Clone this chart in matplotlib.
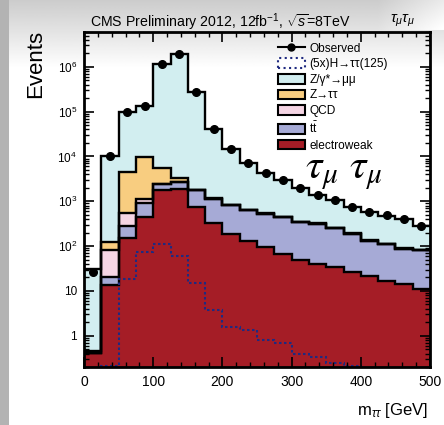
import numpy as np
import matplotlib
matplotlib.use('Agg')
import matplotlib.pyplot as plt
from matplotlib.ticker import MultipleLocator, FuncFormatter, LogLocator, FixedLocator, NullFormatter
from matplotlib.patches import Patch
from matplotlib.lines import Line2D

plt.rcParams['font.family'] = ['Liberation Sans', 'DejaVu Sans']
plt.rcParams['mathtext.fontset'] = 'custom'
plt.rcParams['mathtext.rm'] = 'Liberation Sans'
plt.rcParams['mathtext.it'] = 'Liberation Sans:italic'

# m_tautau bins, 25 GeV wide
edges = np.arange(0, 525, 25)

observed = [26, 1.0e4, 1.0e5, 1.35e5, 1.14e6, 1.94e6, 2.8e5, 4.0e4, 1.5e4, 7.3e3,
            4.2e3, 2.95e3, 2.0e3, 1.4e3, 1.05e3, 740, 575, 490, 392, 285]
signal = [0.01, 0.21, 18.5, 73, 112, 61, 15, 3.7, 1.6, 1.34,
          0.8, 0.67, 0.39, 0.34, 0.25, 0.21, 0.12, 0.1, 0.08, 0.05]
dy_mumu = [30.5, 10380, 95500, 125200, 1.134e6, 1.937e6, 278200, 38840, 14180, 6660,
           3670, 2500, 1600, 1030, 800, 550, 440, 366, 307, 200]
z_tautau = [0.06, 39, 3950, 8650, 3150, 550, 50, 20, 10, 6,
            4, 3, 2, 2, 1, 1, 1, 1, 1, 1]
qcd = [0, 63, 270, 250, 30, 0, 0, 0, 0, 0,
       0, 0, 0, 0, 0, 0, 0, 0, 0, 0]
ttbar = [0, 7, 127, 450, 700, 850, 1000, 815, 620, 500,
         435, 380, 295, 278, 213, 164, 111, 96, 73, 69]
ewk = [0.4, 13.8, 148, 447, 1750, 1850, 740, 325, 188, 133,
       95, 67, 50, 40, 34, 26, 22, 17, 14.4, 11]
y_ticks = [1, 10, 1e2, 1e3, 1e4, 1e5, 1e6]

c_dy = '#d2eef0'
c_ztt = '#f8cd80'
c_qcd = '#f5d5e4'
c_tt = '#a6aad6'
c_ewk = '#a51d26'
c_sig = '#1f2a80'

fig = plt.figure(figsize=(4.44, 4.25), dpi=100)

# greyish vignette of the original screenshot
bg = fig.add_axes([0, 0, 1, 1], zorder=-10)
yy = np.linspace(0, 1, 425)[:, None]
xx = np.linspace(0, 1, 444)[None, :]
grad = 0.80 + 0.20 * np.clip(yy / 0.16, 0, 1) + 0.0 * xx
grad = np.minimum(grad + 0.12 * np.clip((xx - 0.85) / 0.15, 0, 1) * (yy < 0.07), 1)
grad[:, :9] = 0.70
bg.imshow(grad, cmap='gray', vmin=0, vmax=1, aspect='auto', extent=[0, 1, 0, 1])
bg.axis('off')

ax = fig.add_axes([84 / 444, 1 - 367 / 425, 346 / 444, 335 / 425])
ax.set_facecolor('none')
ax.set_yscale('log')

comps = [ewk, ttbar, qcd, z_tautau, dy_mumu]
cols = [c_ewk, c_tt, c_qcd, c_ztt, c_dy]
bottom = np.full(len(edges) - 1, 1e-3)
for vals, col in zip(comps, cols):
    top = bottom + np.array(vals)
    ax.stairs(top, edges, baseline=bottom, fill=True, color=col, lw=0)
    bottom = top
bottom = np.full(len(edges) - 1, 1e-3)
for vals in comps:
    top = bottom + np.array(vals)
    ax.stairs(top, edges, baseline=None, color='k', lw=1.7)
    bottom = top

ax.stairs(signal, edges, baseline=None, color=c_sig, lw=1.5, ls=(0, (1.2, 1.2)))

centers = 0.5 * (edges[1:] + edges[:-1])
ax.plot(centers, observed, 'o', color='k', ms=5.5, zorder=5)

ax.set_xlim(0, 500)
ax.set_ylim(0.2, 6e6)

ax.xaxis.set_major_locator(MultipleLocator(100))
ax.xaxis.set_minor_locator(MultipleLocator(20))
ax.yaxis.set_major_locator(FixedLocator(y_ticks))
ax.yaxis.set_minor_locator(LogLocator(base=10, subs=np.arange(2, 10), numticks=12))
ax.yaxis.set_minor_formatter(NullFormatter())


def ylab(v, pos):
    if v == 1:
        return '1'
    if v == 10:
        return '10'
    return r'$10^{%d}$' % int(round(np.log10(v)))


ax.yaxis.set_major_formatter(FuncFormatter(ylab))
ax.tick_params(which='both', direction='in', top=True, right=True)
ax.tick_params(which='major', length=7, width=1.2)
ax.tick_params(which='minor', length=3.5, width=1)
ax.tick_params(axis='x', labelsize=10, pad=6)
ax.tick_params(axis='y', labelsize=8.5, pad=5)
for s in ax.spines.values():
    s.set_linewidth(2)
    s.set_zorder(10)

handles = [
    Line2D([0], [0], color='k', marker='o', ms=5, lw=1.5),
    Patch(facecolor='white', edgecolor=c_sig, ls=':', lw=1.5),
    Patch(facecolor=c_dy, edgecolor='k', lw=1.5),
    Patch(facecolor=c_ztt, edgecolor='k', lw=1.5),
    Patch(facecolor=c_qcd, edgecolor='k', lw=1.5),
    Patch(facecolor=c_tt, edgecolor='k', lw=1.5),
    Patch(facecolor=c_ewk, edgecolor='k', lw=1.5),
]
labels = ['Observed', '(5x)H\u2192\u03c4\u03c4(125)', 'Z/\u03b3*\u2192\u03bc\u03bc',
          'Z\u2192\u03c4\u03c4', 'QCD', r't$\bar{\mathregular{t}}$', 'electroweak']
ax.legend(handles, labels, loc='upper left', bbox_to_anchor=(0.56, 0.968),
          frameon=False, fontsize=8.6, handlelength=2.25, handleheight=0.85,
          labelspacing=0.3, handletextpad=0.4, borderaxespad=0, borderpad=0)

ax.text(0.64, 0.562, r'$\tau_{\mu}\ \tau_{\mu}$', transform=ax.transAxes,
        fontsize=30, math_fontfamily='stix', ha='left', va='baseline')

fig.text(90 / 444, 1 - 22 / 425, r'CMS Preliminary 2012, 12fb$^{-1}$, $\sqrt{s}$=8TeV',
         fontsize=10.2, ha='left', va='center')
fig.text(390 / 444, 1 - 21 / 425, r'$\tau_{\mu}\tau_{\mu}$', fontsize=11,
         ha='left', va='center')
fig.text(36 / 444, 1 - 64 / 425, 'Events', fontsize=16, rotation=90,
         ha='center', va='center')
fig.text(428 / 444, 1 - 411 / 425, r'm$_{\tau\tau}$ [GeV]', fontsize=12,
         ha='right', va='center')

fig.savefig('out.png', dpi=100)
